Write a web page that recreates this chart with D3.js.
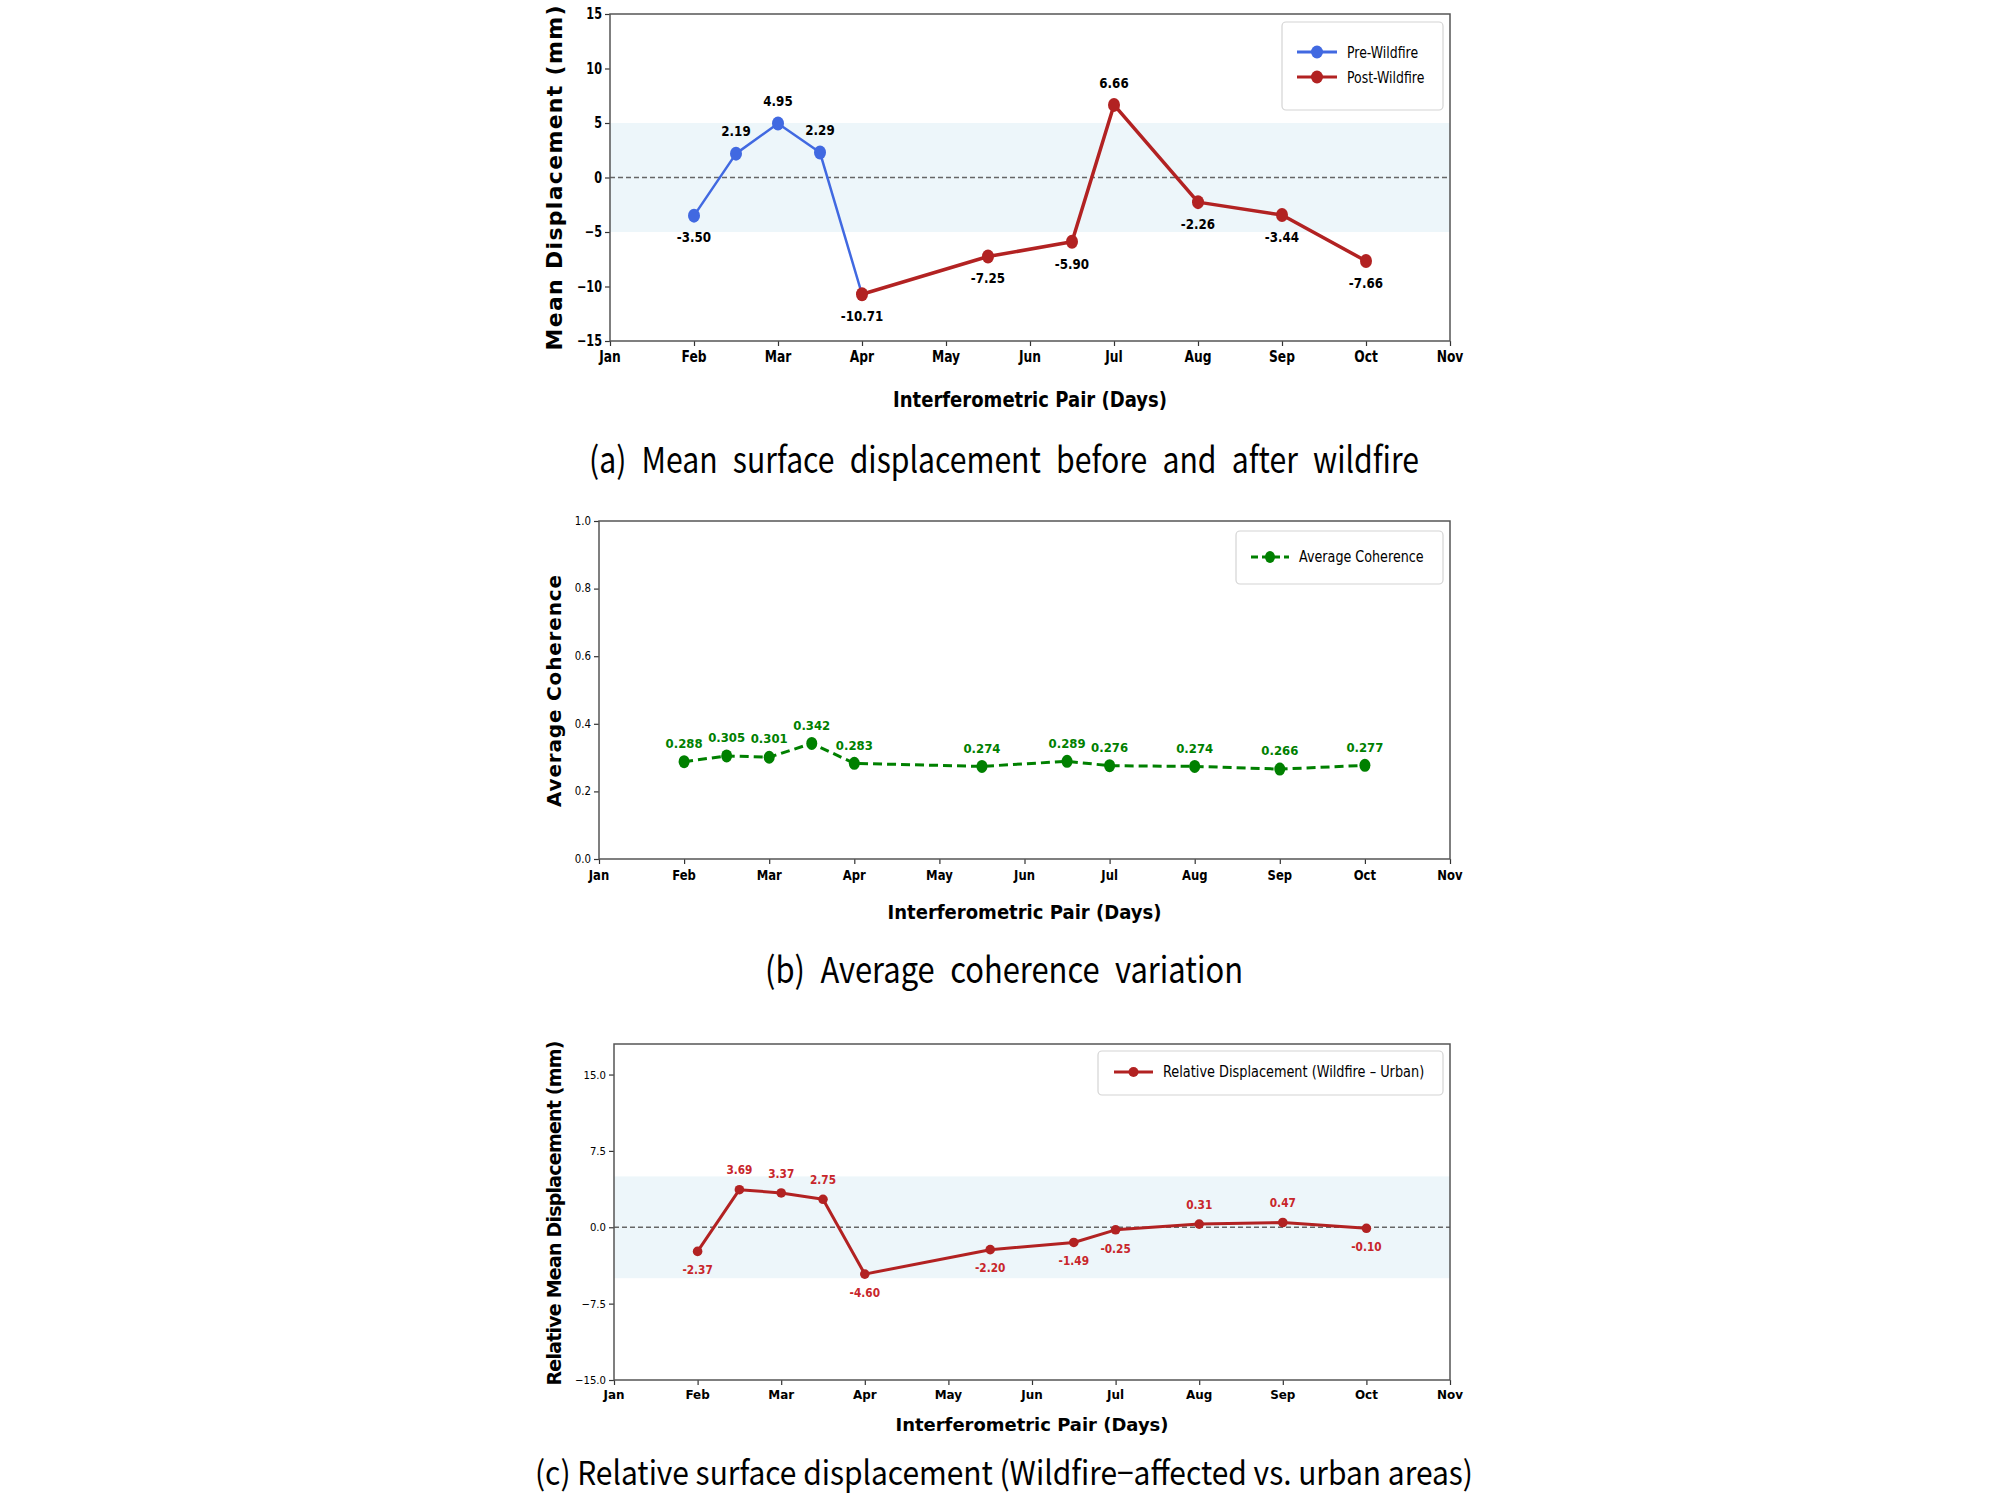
<!DOCTYPE html>
<html>
<head>
<meta charset="utf-8">
<script src="https://cdn.jsdelivr.net/npm/d3@7"></script>
<style>
	body { margin: 0; background: #fff; }
	svg { display: block; }
</style>
</head>
<body>
<svg id="fig" width="2008" height="1498"></svg>
<script>
// month ticks, x = month index (Jan = 0)
const months = ['Jan', 'Feb', 'Mar', 'Apr', 'May', 'Jun', 'Jul', 'Aug', 'Sep', 'Oct', 'Nov']

// (a) mean displacement
const preX = [1, 1.5, 2, 2.5]
const preY = [-3.5, 2.19, 4.95, 2.29]
const postX = [3, 4.5, 5.5, 6, 7, 8, 9]
const postY = [-10.71, -7.25, -5.9, 6.66, -2.26, -3.44, -7.66]
const dispTicks = [-15, -10, -5, 0, 5, 10, 15]

// (b) coherence
const cohX = [1, 1.5, 2, 2.5, 3, 4.5, 5.5, 6, 7, 8, 9]
const cohY = [0.288, 0.305, 0.301, 0.342, 0.283, 0.274, 0.289, 0.276, 0.274, 0.266, 0.277]
const cohTicks = [0, 0.2, 0.4, 0.6, 0.8, 1.0]

// (c) relative displacement
const relX = [1, 1.5, 2, 2.5, 3, 4.5, 5.5, 6, 7, 8, 9]
const relY = [-2.37, 3.69, 3.37, 2.75, -4.6, -2.2, -1.49, -0.25, 0.31, 0.47, -0.1]
const relTicks = [-15, -7.5, 0, 7.5, 15]

const BLUE = '#4169e1'
const RED = '#b22222'
const GREEN = '#008000'
const FONT = "'DejaVu Sans', sans-serif"
const CAPFONT = "'Noto Sans CJK KR', 'Noto Sans', sans-serif"

const svg = d3.select('#fig')

function squeezeText(g, x, y, str, o) {
	return g
		.append('text')
		.attr('transform', `translate(${x},${y}) scale(${o.sx || 1},1)`)
		.attr('text-anchor', o.anchor || 'middle')
		.attr('dominant-baseline', 'central')
		.attr('font-family', o.family || FONT)
		.attr('font-size', o.size)
		.attr('font-weight', o.weight || 'normal')
		.attr('fill', o.fill || '#000')
		.text(str)
}

function fitText(g, x, y, str, o) {
	const t = g
		.append('text')
		.attr('transform', `translate(${x},${y})` + (o.rotate ? ' rotate(-90)' : ''))
		.attr('text-anchor', 'middle')
		.attr('dominant-baseline', 'central')
		.attr('font-family', o.family || FONT)
		.attr('font-size', o.size)
		.attr('font-weight', o.weight || 'normal')
		.attr('fill', '#000')
		.attr('textLength', o.len)
		.attr('lengthAdjust', o.adjust || 'spacingAndGlyphs')
		.text(str)
	if (o.wordSpacing) t.attr('word-spacing', o.wordSpacing)
	return t
}

function drawPanel(p) {
	const x = d3.scaleLinear().domain([0, 10]).range([p.left, p.right])
	const y = d3.scaleLinear().domain(p.yDomain).range([p.bottom, p.top])
	const g = svg.append('g')

	if (p.band) {
		g.append('rect')
			.attr('x', p.left)
			.attr('width', p.right - p.left)
			.attr('y', y(5))
			.attr('height', y(-5) - y(5))
			.attr('fill', '#add8e6')
			.attr('opacity', 0.22)
		g.append('line')
			.attr('x1', p.left)
			.attr('x2', p.right)
			.attr('y1', y(0))
			.attr('y2', y(0))
			.attr('stroke', '#666')
			.attr('stroke-width', 1.3)
			.attr('stroke-dasharray', '5,3')
	}

	// axes (ticks from d3, labels drawn squeezed)
	const xAxis = g
		.append('g')
		.attr('transform', `translate(0,${p.bottom})`)
		.call(d3.axisBottom(x).tickValues(d3.range(months.length)).tickFormat('').tickSize(5).tickSizeOuter(0))
	const yAxis = g
		.append('g')
		.attr('transform', `translate(${p.left},0)`)
		.call(d3.axisLeft(y).tickValues(p.yTicks).tickFormat('').tickSize(5).tickSizeOuter(0))
	xAxis.select('.domain').remove()
	yAxis.select('.domain').remove()
	g.selectAll('.tick line').attr('stroke', '#333').attr('stroke-width', 1.2)

	months.forEach((m, i) => {
		squeezeText(g, x(i), p.bottom + p.xt.dy, m, p.xt)
	})
	p.yTicks.forEach(v => {
		squeezeText(g, p.left - 8, y(v), p.yFormat(v), Object.assign({ anchor: 'end' }, p.yt))
	})

	// frame
	g.append('rect')
		.attr('x', p.left)
		.attr('y', p.top)
		.attr('width', p.right - p.left)
		.attr('height', p.bottom - p.top)
		.attr('fill', 'none')
		.attr('stroke', '#555')
		.attr('stroke-width', 1.5)

	// titles
	fitText(g, (p.left + p.right) / 2, p.xTitle.y, 'Interferometric Pair (Days)', p.xTitle)
	fitText(g, 554, p.yTitle.y, p.yTitle.text, Object.assign({ rotate: true }, p.yTitle))
	fitText(svg, 1004, p.caption.y, p.caption.text, Object.assign({ family: CAPFONT }, p.caption))

	return { g, x, y }
}

function drawSeries(ctx, xs, ys, o) {
	const { g, x, y } = ctx
	const pts = xs.map((v, i) => [v, ys[i]])
	const linePts = o.extra ? pts.concat([o.extra]) : pts
	g.append('path')
		.datum(linePts)
		.attr('fill', 'none')
		.attr('stroke', o.color)
		.attr('stroke-width', o.width)
		.attr('stroke-dasharray', o.dash || null)
		.attr('stroke-linejoin', 'round')
		.attr('d', d3.line().x(d => x(d[0])).y(d => y(d[1])))
	g.selectAll(null)
		.data(pts)
		.enter()
		.append('ellipse')
		.attr('cx', d => x(d[0]))
		.attr('cy', d => y(d[1]))
		.attr('rx', o.rx)
		.attr('ry', o.ry)
		.attr('fill', o.color)
	pts.forEach(d => {
		const off = o.allAbove || d[1] >= 0 ? -o.off : o.off
		squeezeText(g, x(d[0]), y(d[1]) + off, o.fmt(d[1]), o.label)
	})
}

function legend(g, box, items) {
	g.append('rect')
		.attr('x', box.x)
		.attr('y', box.y)
		.attr('width', box.w)
		.attr('height', box.h)
		.attr('rx', 4)
		.attr('fill', '#fff')
		.attr('fill-opacity', 0.85)
		.attr('stroke', '#d4d4d4')
		.attr('stroke-width', 1.2)
	items.forEach(it => {
		g.append('line')
			.attr('x1', it.x1)
			.attr('x2', it.x2)
			.attr('y1', it.y)
			.attr('y2', it.y)
			.attr('stroke', it.color)
			.attr('stroke-width', it.width)
			.attr('stroke-dasharray', it.dash || null)
		g.append('ellipse')
			.attr('cx', (it.x1 + it.x2) / 2)
			.attr('cy', it.y)
			.attr('rx', it.rx)
			.attr('ry', it.ry)
			.attr('fill', it.color)
		squeezeText(g, it.tx, it.y, it.text, { anchor: 'start', size: it.size, sx: it.sx })
	})
}

const signed = (v, digits) => (v < 0 ? '\u2212' : '') + Math.abs(v).toFixed(digits)

// ---- (a)
const A = drawPanel({
	left: 610, right: 1450, top: 14, bottom: 341,
	yDomain: [-15, 15], yTicks: dispTicks,
	yFormat: v => signed(v, 0),
	xt: { dy: 16, size: 15, weight: 'bold', sx: 0.82 },
	yt: { size: 15, weight: 'bold', sx: 0.75 },
	band: true,
	xTitle: { y: 400, size: 21, weight: 'bold', len: 274 },
	yTitle: { y: 178, size: 22, weight: 'bold', len: 345, adjust: 'spacing', text: 'Mean Displacement (mm)' },
	caption: { y: 457, size: 36, len: 830, wordSpacing: 10, text: '(a) Mean surface displacement before and after wildfire' }
})
drawSeries(A, preX, preY, {
	color: BLUE, width: 2.5, rx: 6, ry: 7, off: 22,
	extra: [postX[0], postY[0]],
	fmt: v => v.toFixed(2),
	label: { size: 14, weight: 'bold', sx: 0.85 }
})
drawSeries(A, postX, postY, {
	color: RED, width: 3.5, rx: 6, ry: 7, off: 22,
	fmt: v => v.toFixed(2),
	label: { size: 14, weight: 'bold', sx: 0.85 }
})
legend(A.g, { x: 1282, y: 22, w: 161, h: 88 }, [
	{ x1: 1297, x2: 1337, y: 52, color: BLUE, width: 3, rx: 6, ry: 6.5, tx: 1347, text: 'Pre-Wildfire', size: 16, sx: 0.78 },
	{ x1: 1297, x2: 1337, y: 77, color: RED, width: 3, rx: 6, ry: 6.5, tx: 1347, text: 'Post-Wildfire', size: 16, sx: 0.78 }
])

// ---- (b)
const B = drawPanel({
	left: 599, right: 1450, top: 521, bottom: 859,
	yDomain: [0, 1], yTicks: cohTicks,
	yFormat: v => v.toFixed(1),
	xt: { dy: 16, size: 14, weight: 'bold', sx: 0.83 },
	yt: { size: 12, sx: 0.85 },
	band: false,
	xTitle: { y: 912, size: 20, weight: 'bold', len: 274 },
	yTitle: { y: 691, size: 20, weight: 'bold', len: 232, adjust: 'spacing', text: 'Average Coherence' },
	caption: { y: 967, size: 36, len: 478, wordSpacing: 10, text: '(b) Average coherence variation' }
})
drawSeries(B, cohX, cohY, {
	color: GREEN, width: 3, dash: '9,5', rx: 5.5, ry: 6.5, off: 18, allAbove: true,
	fmt: v => v.toFixed(3),
	label: { size: 13, weight: 'bold', sx: 0.9, fill: GREEN }
})
legend(B.g, { x: 1236, y: 531, w: 207, h: 53 }, [
	{ x1: 1251, x2: 1289, y: 557, color: GREEN, width: 3, dash: '7,4', rx: 5, ry: 6, tx: 1299, text: 'Average Coherence', size: 15, sx: 0.85 }
])

// ---- (c)
const C = drawPanel({
	left: 614, right: 1450, top: 1044, bottom: 1380,
	yDomain: [-15, 18], yTicks: relTicks,
	yFormat: v => signed(v, 1),
	xt: { dy: 14, size: 13, weight: 'bold', sx: 0.92 },
	yt: { size: 11, sx: 0.92 },
	band: true,
	xTitle: { y: 1424, size: 18, weight: 'bold', len: 273 },
	yTitle: { y: 1213, size: 19, weight: 'bold', len: 345, adjust: 'spacing', text: 'Relative Mean Displacement (mm)' },
	caption: { y: 1471, size: 33, len: 938, text: '(c) Relative surface displacement (Wildfire\u2212affected vs. urban areas)' }
})
drawSeries(C, relX, relY, {
	color: RED, width: 3, rx: 4.8, ry: 4.8, off: 19,
	fmt: v => v.toFixed(2),
	label: { size: 12, weight: 'bold', sx: 0.88, fill: '#c8262b' }
})
legend(C.g, { x: 1098, y: 1051, w: 345, h: 44 }, [
	{ x1: 1114, x2: 1153, y: 1072, color: RED, width: 3, rx: 5, ry: 5, tx: 1163, text: 'Relative Displacement (Wildfire \u2013 Urban)', size: 15, sx: 0.86 }
])
</script>
</body>
</html>
